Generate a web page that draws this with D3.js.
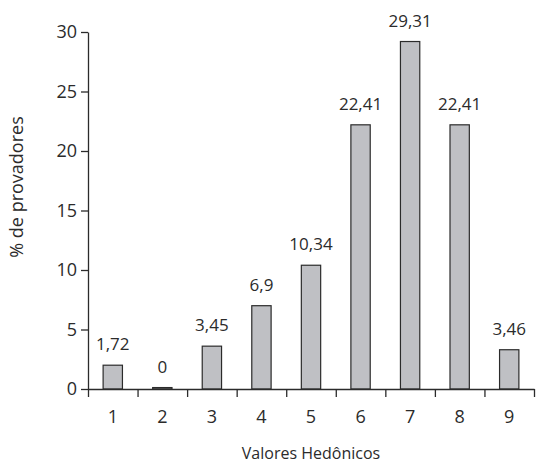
<!DOCTYPE html>
<html>
<head>
<meta charset="utf-8">
<script src="https://cdn.jsdelivr.net/npm/d3@7"></script>
<style>
  body { margin: 0; background: #fff; }
  text { font-family: "Open Sans", sans-serif; fill: #2b2b2b; }
</style>
</head>
<body>
<div id="chart"></div>
<script>
// data
var categories = ["1", "2", "3", "4", "5", "6", "7", "8", "9"];
var barHeights = [2.0, 0.12, 3.6, 7.0, 10.4, 22.2, 29.2, 22.2, 3.3];
var barLabels = ["1,72", "0", "3,45", "6,9", "10,34", "22,41", "29,31", "22,41", "3,46"];
var yTicks = [0, 5, 10, 15, 20, 25, 30];

// set the dimensions and margins of the graph
var margin = {top: 32, right: 4, bottom: 76, left: 88},
    width = 538,
    height = 465;

var svg = d3.select("#chart")
  .append("svg")
    .attr("width", width)
    .attr("height", height);

var x = d3.scaleBand()
  .domain(categories)
  .range([margin.left, width - margin.right]);

var y = d3.scaleLinear()
  .domain([0, 30])
  .range([height - margin.bottom, margin.top]);

var edges = d3.scaleLinear()
  .domain([0, categories.length])
  .range([margin.left, width - margin.right]);

// bars
var bw = x.bandwidth() * 0.39;
svg.append("g")
  .selectAll("rect")
  .data(categories)
  .join("rect")
    .attr("x", function(d) { return x(d) + (x.bandwidth() - bw) / 2; })
    .attr("y", function(d, i) { return y(barHeights[i]); })
    .attr("width", bw)
    .attr("height", function(d, i) { return y(0) - y(barHeights[i]); })
    .attr("fill", "#bfc0c4")
    .attr("stroke", "#2b2b2b")
    .attr("stroke-width", 1.2);

// value labels
svg.append("g")
  .selectAll("text")
  .data(categories)
  .join("text")
    .attr("x", function(d) { return x(d) + x.bandwidth() / 2; })
    .attr("y", function(d, i) { return y(barHeights[i]) - 15; })
    .attr("text-anchor", "middle")
    .style("font-size", "17px")
    .text(function(d, i) { return barLabels[i]; });

// y axis
svg.append("g")
  .attr("transform", "translate(" + margin.left + ",0)")
  .call(d3.axisLeft(y).tickValues(yTicks).tickSize(7).tickSizeOuter(0).tickPadding(4));

// x axis: boundary ticks
svg.append("g")
  .attr("transform", "translate(0," + y(0) + ")")
  .call(d3.axisBottom(edges).ticks(categories.length).tickSize(8).tickSizeOuter(0).tickFormat(""));

// x axis: labels centred in bands
var xLabels = svg.append("g")
  .attr("transform", "translate(0," + y(0) + ")")
  .call(d3.axisBottom(x).tickSize(0).tickPadding(21));
xLabels.select(".domain").remove();

svg.selectAll(".domain, .tick line")
  .attr("stroke", "#2b2b2b")
  .attr("stroke-width", 1.3);
svg.selectAll(".tick text")
  .style("font-size", "18px")
  .style("font-family", "'Open Sans', sans-serif")
  .attr("fill", "#2b2b2b");

// axis titles
svg.append("text")
  .attr("x", (margin.left + width - margin.right) / 2)
  .attr("y", 459)
  .attr("text-anchor", "middle")
  .style("font-size", "16px")
  .text("Valores Hedônicos");

svg.append("text")
  .attr("transform", "translate(23,187) rotate(-90)")
  .attr("text-anchor", "middle")
  .style("font-size", "18px")
  .text("% de provadores");
</script>
</body>
</html>
